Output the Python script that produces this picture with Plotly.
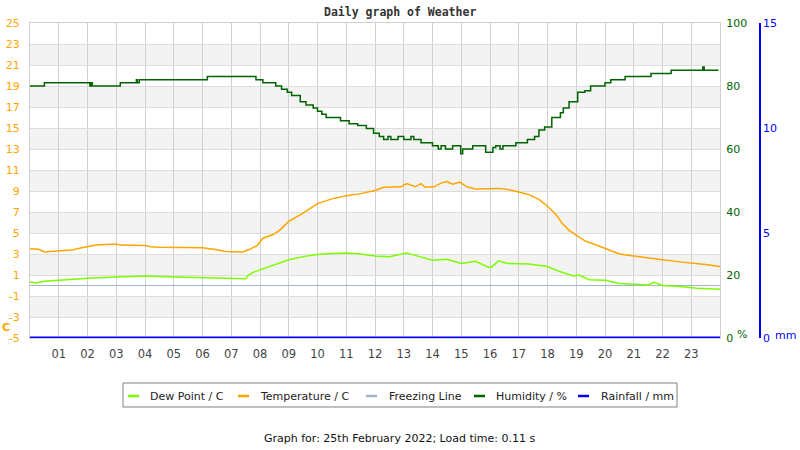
import plotly.graph_objects as go

# ---------------- data ----------------
hours_ticks = list(range(1, 24))
hour_labels = [f"{h:02d}" for h in hours_ticks]

temp_ticks = list(range(-5, 26, 2))
temp_labels = [str(v) for v in temp_ticks]

hum_t = [0, 0.5, 2.08, 2.12, 2.17, 3.14, 3.70, 3.73, 3.80, 6.17, 7.86, 8.10, 8.55, 8.75,
         8.95, 9.10, 9.40, 9.60, 9.85, 10.0, 10.15, 10.3, 10.8, 11.1, 11.4, 11.7, 11.95,
         12.15, 12.3, 12.45, 12.55, 12.8, 13.0, 13.25, 13.35, 13.6, 14.0, 14.2, 14.3, 14.45,
         14.7, 14.98, 15.05, 15.4, 15.85, 16.1, 16.2, 16.35, 16.45, 16.9, 17.3, 17.55,
         17.7, 17.9, 18.15, 18.45, 18.55, 18.75, 19.05, 19.3, 19.5, 20.0, 20.2, 20.7,
         21.6, 22.3, 22.55, 23.4, 23.45, 23.95]
hum_v = [80, 81, 80, 81, 80, 81, 82, 81, 82, 83, 82, 81, 80, 79,
         78, 77, 75, 74, 73, 72, 71, 70, 69, 68, 67.5, 66.5, 65,
         64, 63, 64, 63, 64, 63, 64, 63, 62, 61, 60, 61, 60,
         61, 58.5, 60, 61, 59, 60.5, 61, 60, 61, 62, 63, 64,
         66, 67, 70, 71.5, 73, 75, 78, 78.5, 80, 81, 82, 83,
         84, 85, 85, 86, 85, 85]

temp_t = [0, 0.3, 0.5, 1.0, 1.5, 1.8, 2.3, 3.0, 3.1, 4.0, 4.2, 4.5, 6.0, 6.5, 6.8, 7.4,
          7.6, 7.9, 8.0, 8.1, 8.46, 8.7, 9.0, 9.5, 10.0, 10.5, 11.0, 11.5, 12.0, 12.3,
          12.9, 13.1, 13.4, 13.6, 13.75, 14.05, 14.3, 14.5, 14.7, 14.95, 15.2, 15.5,
          16.35, 16.6, 17.0, 17.35, 17.7, 18.0, 18.3, 18.5, 18.75, 19.0, 19.3, 19.65,
          20.0, 20.5, 21.0, 21.5, 22.0, 22.6, 23.0, 23.5, 24.0]
temp_v = [3.5, 3.45, 3.2, 3.3, 3.4, 3.6, 3.85, 3.95, 3.85, 3.8, 3.7, 3.65, 3.6, 3.4, 3.25, 3.2,
          3.4, 3.8, 4.2, 4.5, 4.85, 5.3, 6.1, 6.9, 7.8, 8.25, 8.55, 8.75, 9.05, 9.35,
          9.4, 9.7, 9.4, 9.7, 9.35, 9.4, 9.75, 9.9, 9.65, 9.85, 9.4, 9.2,
          9.25, 9.15, 8.9, 8.65, 8.2, 7.55, 6.75, 5.95, 5.25, 4.8, 4.25, 3.9,
          3.5, 3.0, 2.8, 2.6, 2.45, 2.25, 2.15, 2.0, 1.8]

dew_t = [0, 0.2, 0.5, 1.0, 1.5, 1.7, 2.0, 3.0, 4.0, 4.5, 6.0, 6.5, 7.5, 7.6, 7.8, 8.1,
         8.46, 9.0, 9.5, 10.0, 10.5, 11.0, 11.5, 12.0, 12.5, 13.1, 13.55, 14.0, 14.5,
         15.0, 15.5, 15.95, 16.05, 16.3, 16.6, 17.0, 17.35, 18.0, 18.4, 18.9, 19.1,
         19.45, 20.0, 20.5, 21.0, 21.5, 21.7, 22.0, 22.6, 23.2, 24.0]
dew_v = [0.35, 0.25, 0.4, 0.5, 0.55, 0.62, 0.7, 0.8, 0.9, 0.85, 0.8, 0.72, 0.65, 1.0, 1.3, 1.6,
         1.9, 2.45, 2.75, 2.95, 3.05, 3.1, 3.0, 2.8, 2.75, 3.1, 2.75, 2.4, 2.5,
         2.1, 2.3, 1.75, 1.75, 2.35, 2.1, 2.05, 2.05, 1.8, 1.35, 0.9, 1.0,
         0.55, 0.5, 0.2, 0.15, 0.05, 0.3, 0.0, -0.1, -0.25, -0.35]

freeze_t = [0, 24]
freeze_v = [0, 0]

rain_t = [0, 24]
rain_v = [0, 0]

legend_names = ["Dew Point / C", "Temperature / C", "Freezing Line", "Humidity / %", "Rainfall / mm"]
colors = ["#7cfc00", "#ffa500", "#a4b4c8", "#006400", "#0000ff"]

# ---------------- layout helpers ----------------
W, H = 800, 450
L, R, T, B = 30, 10, 23, 112
PW = W - L - R
PH = H - T - B


def px(x):
    return (x - L) / PW


def py(y):
    return (H - B - y) / PH


fig = go.Figure()

fig.add_trace(go.Scatter(x=freeze_t, y=freeze_v, mode="lines", name=legend_names[2],
                         line=dict(color=colors[2], width=1.2), showlegend=False))
fig.add_trace(go.Scatter(x=dew_t, y=dew_v, mode="lines", name=legend_names[0],
                         line=dict(color=colors[0], width=1.5), showlegend=False))
fig.add_trace(go.Scatter(x=temp_t, y=temp_v, mode="lines", name=legend_names[1],
                         line=dict(color=colors[1], width=1.5), showlegend=False))
fig.add_trace(go.Scatter(x=hum_t, y=hum_v, mode="lines", name=legend_names[3], yaxis="y2",
                         line=dict(color=colors[3], width=1.5, shape="hv"), showlegend=False))
fig.add_trace(go.Scatter(x=rain_t, y=rain_v, mode="lines", name=legend_names[4], yaxis="y3",
                         line=dict(color=colors[4], width=3), showlegend=False))

# alternating background bands
shapes = []
b = -3
while b < 25:
    shapes.append(dict(type="rect", xref="x", yref="y", x0=0, x1=24, y0=b, y1=b + 2,
                       fillcolor="#f3f3f3", line=dict(width=0), layer="below"))
    b += 4

# manual legend
shapes.append(dict(type="rect", xref="paper", yref="paper", x0=px(123), x1=px(677),
                   y0=py(407), y1=py(383), line=dict(color="#808080", width=1),
                   fillcolor="rgba(0,0,0,0)"))
legend_line_x = [128, 238, 366, 474, 578]
legend_text_x = [148, 258, 387, 494, 599]
annotations = []
for name, col, lx, tx in zip(legend_names, colors, legend_line_x, legend_text_x):
    shapes.append(dict(type="line", xref="paper", yref="paper", x0=px(lx), x1=px(lx + 11),
                       y0=py(396), y1=py(396), line=dict(color=col, width=2.5)))
    annotations.append(dict(xref="paper", yref="paper", x=px(tx), y=py(396.5), text=name,
                            showarrow=False, xanchor="left", yanchor="middle",
                            font=dict(family="DejaVu Sans", size=11, color="#222")))

# units
annotations.append(dict(xref="paper", yref="paper", x=px(0), y=py(327), text="<b>C</b>",
                        showarrow=False, xanchor="left", yanchor="middle",
                        font=dict(family="DejaVu Sans", size=11, color="#ffa500")))
annotations.append(dict(xref="paper", yref="paper", x=px(735), y=py(334), text="%",
                        showarrow=False, xanchor="left", yanchor="middle",
                        font=dict(family="DejaVu Sans", size=11, color="#006400")))
annotations.append(dict(xref="paper", yref="paper", x=px(773), y=py(335), text="mm",
                        showarrow=False, xanchor="left", yanchor="middle",
                        font=dict(family="DejaVu Sans", size=11, color="#0000ff")))
# footer
annotations.append(dict(xref="paper", yref="paper", x=px(400), y=py(438),
                        text="Graph for: 25th February 2022; Load time: 0.11 s",
                        showarrow=False, xanchor="center", yanchor="middle",
                        font=dict(family="DejaVu Sans", size=11, color="#111")))
# title
annotations.append(dict(xref="paper", yref="paper", x=px(400), y=py(12),
                        text="<b>Daily graph of Weather</b>",
                        showarrow=False, xanchor="center", yanchor="middle",
                        font=dict(family="DejaVu Sans Mono", size=11.5, color="#333")))

fig.update_layout(
    width=W, height=H,
    margin=dict(l=L, r=R, t=T, b=B, autoexpand=False),
    paper_bgcolor="white", plot_bgcolor="white",
    showlegend=False,
    shapes=shapes,
    annotations=annotations,
    xaxis=dict(domain=[0, (720 - L) / PW], range=[0, 24], tickmode="array",
               tickvals=hours_ticks, ticktext=hour_labels, showgrid=True,
               gridcolor="#d0d0d0", gridwidth=1, zeroline=False,
               showline=True, linecolor="#d0d0d0", mirror=True, automargin=False,
               ticks="outside", ticklen=5, tickcolor="rgba(0,0,0,0)",
               tickfont=dict(family="DejaVu Sans", size=11.5, color="#444")),
    yaxis=dict(range=[-5, 25], tickmode="array", tickvals=temp_ticks, ticktext=temp_labels,
               showgrid=True, gridcolor="#dddddd",
               zeroline=False, showline=True, linecolor="#d0d0d0", mirror=True,
               automargin=False,
               ticks="outside", ticklen=7, tickcolor="rgba(0,0,0,0)",
               tickfont=dict(family="DejaVu Sans", size=11, color="#ffa500")),
    yaxis2=dict(range=[0, 100], tick0=0, dtick=20, overlaying="y", side="right",
                anchor="x", showgrid=False, zeroline=False, showline=False,
                automargin=False,
                ticks="outside", ticklen=3, tickcolor="rgba(0,0,0,0)",
                tickfont=dict(family="DejaVu Sans", size=11, color="#006400")),
    yaxis3=dict(range=[0, 15], tick0=0, dtick=5, overlaying="y", side="right",
                anchor="free", position=px(760), showgrid=False, zeroline=False,
                showline=True, linecolor="#0000ff", linewidth=1.5, automargin=False,
                ticks="", tickfont=dict(family="DejaVu Sans", size=11, color="#0000ff")),
)

fig.write_html("out.html")
